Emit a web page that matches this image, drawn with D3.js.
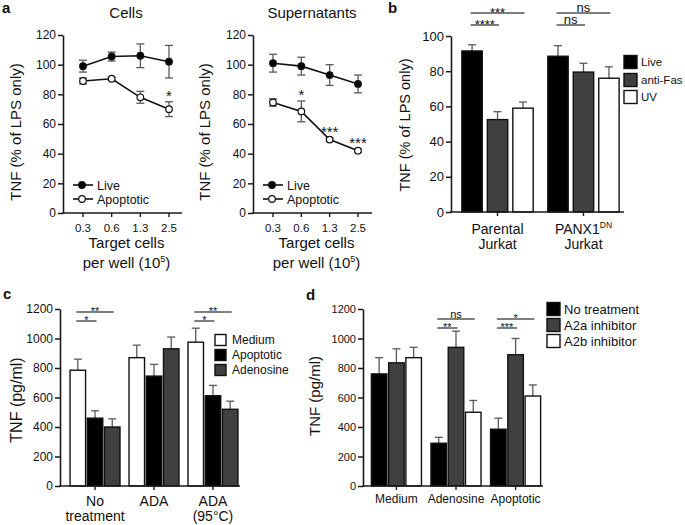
<!DOCTYPE html>
<html><head><meta charset="utf-8">
<script src="https://cdn.jsdelivr.net/npm/d3@7"></script>
<style>body{margin:0;background:#fff}</style>
</head><body><svg id="c" width="685" height="525"></svg>
<script>
// ---------- DATA ----------
const doseLabels = ["0.3", "0.6", "1.3", "2.5"];
const cellsLive = [99, 105.5, 106, 102];
const cellsLiveErr = [4, 3, 8, 11];
const cellsApop = [89, 90.5, 78, 70];
const cellsApopErr = [2, 1, 4, 5];
const cellsStars = ["", "", "", "*"];
const supLive = [101, 99, 93, 87];
const supLiveErr = [6, 6, 7, 6];
const supApop = [74.5, 68.5, 49.5, 42];
const supApopErr = [2.5, 7, 1, 1];
const supStars = ["", "*", "***", "***"];
const pctTicks = [0, 20, 40, 60, 80, 100, 120];

const bGroups = ["Parental", "PANX1"];
const bSeries = ["Live", "anti-Fas", "UV"];
const bParental = [91.5, 52.5, 59];
const bParentalErr = [3.5, 4.5, 3.5];
const bPanx = [88.5, 79.5, 76];
const bPanxErr = [6, 5, 6.5];
const bTicks = [0, 20, 40, 60, 80, 100];
const bSig = [["Parental", "Live", "UV", "***", 0], ["Parental", "Live", "anti-Fas", "****", 1],
              ["PANX1", "Live", "UV", "ns", 0], ["PANX1", "Live", "anti-Fas", "ns", 1]];

const cGroups = ["No treatment", "ADA", "ADA (95°C)"];
const cSeries = ["Medium", "Apoptotic", "Adenosine"];
const cNoTx = [785, 460, 400];
const cNoTxErr = [75, 50, 55];
const cADA = [870, 745, 930];
const cADAErr = [85, 80, 80];
const cADA95 = [975, 612, 520];
const cADA95Err = [95, 70, 55];
const pgTicks = [0, 200, 400, 600, 800, 1000, 1200];
const cSig = [["No treatment", "Medium", "Adenosine", "**", 0], ["No treatment", "Medium", "Apoptotic", "*", 1],
              ["ADA (95°C)", "Medium", "Adenosine", "**", 0], ["ADA (95°C)", "Medium", "Apoptotic", "*", 1]];

const dGroups = ["Medium", "Adenosine", "Apoptotic"];
const dSeries = ["No treatment", "A2a inhibitor", "A2b inhibitor"];
const dMedium = [760, 835, 870];
const dMediumErr = [110, 95, 70];
const dAdenosine = [290, 940, 500];
const dAdenosineErr = [40, 110, 80];
const dApoptotic = [385, 890, 610];
const dApoptoticErr = [75, 110, 75];
const dSig = [["Adenosine", "No treatment", "A2b inhibitor", "ns", 0], ["Adenosine", "No treatment", "A2a inhibitor", "**", 1],
              ["Apoptotic", "No treatment", "A2b inhibitor", "*", 0], ["Apoptotic", "No treatment", "A2a inhibitor", "***", 1]];

// ---------- STYLE ----------
const FONT = '"Liberation Sans", Arial, Helvetica, sans-serif';
const AX = "#1a1a1a", ERR = "#5a5a5a", DARK = "#404040", TXT = "#111";
const svg = d3.select("#c");

function text(x, y, s, fs, opts = {}) {
  const t = svg.append("text").attr("x", x).attr("y", y).text(s)
    .attr("font-family", FONT).attr("font-size", fs).attr("fill", TXT)
    .attr("text-anchor", opts.anchor || "start");
  if (opts.bold) t.attr("font-weight", "bold");
  if (opts.rotate) t.attr("transform", `rotate(-90,${x},${y})`).attr("dominant-baseline", "central");
  return t;
}

function yAxis(x, y, ticks, fs) {
  const g = svg.append("g").attr("transform", `translate(${x},0)`)
    .call(d3.axisLeft(y).tickValues(ticks).tickSize(5).tickSizeOuter(0).tickPadding(2).tickFormat(d3.format("d")));
  g.select(".domain").attr("stroke", AX).attr("stroke-width", 1.6);
  g.selectAll(".tick line").attr("stroke", AX).attr("stroke-width", 1.5);
  g.selectAll(".tick text").attr("font-size", fs).attr("font-family", FONT).attr("fill", TXT);
}

function xAxisLine(x0, x1, yPix, positions) {
  svg.append("line").attr("x1", x0 - 0.8).attr("x2", x1).attr("y1", yPix).attr("y2", yPix)
    .attr("stroke", AX).attr("stroke-width", 1.6);
  svg.selectAll(null).data(positions).enter().append("line")
    .attr("x1", d => d).attr("x2", d => d).attr("y1", yPix).attr("y2", yPix + 4)
    .attr("stroke", AX).attr("stroke-width", 1.4);
}

function errBar(x, yTop, yBot, cap) {
  svg.append("line").attr("x1", x).attr("x2", x).attr("y1", yTop).attr("y2", yBot)
    .attr("stroke", ERR).attr("stroke-width", 1.3);
  svg.append("line").attr("x1", x - cap).attr("x2", x + cap).attr("y1", yTop).attr("y2", yTop)
    .attr("stroke", ERR).attr("stroke-width", 1.3);
}

// ---------- PANEL a ----------
function linePanel(o) {
  const y = d3.scaleLinear().domain([0, 120]).range([213, 35]);
  const x = d3.scalePoint().domain(doseLabels).range(o.xr);
  yAxis(o.ax, y, pctTicks, 12);
  xAxisLine(o.ax, o.axEnd, y(0), doseLabels.map(d => x(d)));
  doseLabels.forEach(d => text(x(d), 232, d, 11.5, { anchor: "middle" }));
  const series = [
    { v: o.live, e: o.liveErr, fill: "#000" },
    { v: o.apop, e: o.apopErr, fill: "#fff" }
  ];
  series.forEach(s => {
    s.v.forEach((v, i) => {
      const cx = x(doseLabels[i]);
      errBar(cx, y(v + s.e[i]), y(v), 4);
      svg.append("line").attr("x1", cx).attr("x2", cx).attr("y1", y(v)).attr("y2", y(v - s.e[i]))
        .attr("stroke", ERR).attr("stroke-width", 1.3);
      svg.append("line").attr("x1", cx - 4).attr("x2", cx + 4).attr("y1", y(v - s.e[i])).attr("y2", y(v - s.e[i]))
        .attr("stroke", ERR).attr("stroke-width", 1.3);
    });
  });
  const line = d3.line().x((d, i) => x(doseLabels[i])).y(d => y(d));
  series.forEach(s => {
    svg.append("path").attr("d", line(s.v)).attr("fill", "none").attr("stroke", "#111").attr("stroke-width", 1.6);
    svg.selectAll(null).data(s.v).enter().append("circle")
      .attr("cx", (d, i) => x(doseLabels[i])).attr("cy", d => y(d)).attr("r", 3.3)
      .attr("fill", s.fill).attr("stroke", "#111").attr("stroke-width", 1.2);
  });
  o.stars.forEach((s, i) => {
    if (!s) return;
    text(x(doseLabels[i]), y(o.apop[i] + o.apopErr[i]) - 1, s, 15, { anchor: "middle" });
  });
  // legend
  const lg = [["Live", "#000", 185], ["Apoptotic", "#fff", 199]];
  lg.forEach(([name, fill, ly]) => {
    svg.append("line").attr("x1", o.ax + 10).attr("x2", o.ax + 30).attr("y1", ly).attr("y2", ly)
      .attr("stroke", "#111").attr("stroke-width", 1.6);
    svg.append("circle").attr("cx", o.ax + 19).attr("cy", ly).attr("r", 3.3)
      .attr("fill", fill).attr("stroke", "#111").attr("stroke-width", 1.2);
    text(o.ax + 34, ly + 4.5, name, 12.5);
  });
  text(o.titleX, 18, o.title, 15, { anchor: "middle" });
  text(o.ylabX, 132, "TNF (% of LPS only)", 15, { anchor: "middle", rotate: true });
  const cx = (o.ax + o.axEnd) / 2 + 4;
  text(cx, 248, "Target cells", 15, { anchor: "middle" });
  const t = text(cx, 268, "per well (10", 15, { anchor: "middle" });
  t.append("tspan").attr("font-size", 9).attr("dy", -6).text("5");
  t.append("tspan").attr("dy", 6).text(")");
}

linePanel({ ax: 63, axEnd: 182, xr: [83, 169], live: cellsLive, liveErr: cellsLiveErr,
  apop: cellsApop, apopErr: cellsApopErr, stars: cellsStars, title: "Cells", titleX: 126, ylabX: 15 });
linePanel({ ax: 253, axEnd: 372, xr: [273, 358], live: supLive, liveErr: supLiveErr,
  apop: supApop, apopErr: supApopErr, stars: supStars, title: "Supernatants", titleX: 312, ylabX: 204 });

// ---------- BAR PANELS ----------
function barPanel(o) {
  const y = d3.scaleLinear().domain(o.domain).range(o.yr);
  const gx = d3.scaleBand().domain(o.groups).range(o.gr).paddingInner(o.pi).paddingOuter(o.po);
  const sx = d3.scaleBand().domain(o.series).range([0, gx.bandwidth()]).paddingInner(o.si);
  yAxis(o.ax, y, o.ticks, o.tickFs);
  o.groups.forEach((g, gi) => {
    o.values[gi].forEach((v, si) => {
      const bx = gx(g) + sx(o.series[si]);
      const cx = bx + sx.bandwidth() / 2;
      errBar(cx, y(v + o.errs[gi][si]), y(v), 4);
      svg.append("rect").attr("x", bx).attr("y", y(v)).attr("width", sx.bandwidth()).attr("height", y(0) - y(v))
        .attr("fill", o.colors[si]).attr("stroke", "#111").attr("stroke-width", 1.4);
    });
  });
  xAxisLine(o.ax, o.axEnd, y(0), o.groups.map(g => gx(g) + gx.bandwidth() / 2));
  // significance
  o.sig.forEach(([g, a, b, lab, lev]) => {
    const x1 = gx(g) + sx(a) + sx.bandwidth() / 2 - 1.5;
    const x2 = gx(g) + sx(b) + sx.bandwidth() / 2 + 1.5;
    const ly = o.sigY[lev];
    svg.append("line").attr("x1", x1).attr("x2", x2).attr("y1", ly).attr("y2", ly)
      .attr("stroke", "#555").attr("stroke-width", 1.5);
    const isNs = lab === "ns";
    text((x1 + x2) / 2, isNs ? ly - 1.5 : ly + o.starDy, lab, isNs ? o.nsFs : o.starFs, { anchor: "middle" });
  });
  // legend
  o.series.forEach((s, i) => {
    const cy = o.leg.y[i];
    svg.append("rect").attr("x", o.leg.x).attr("y", cy - o.leg.size / 2).attr("width", o.leg.size).attr("height", o.leg.size)
      .attr("fill", o.colors[i]).attr("stroke", "#111").attr("stroke-width", 1.4);
    text(o.leg.x + o.leg.size + o.leg.gap, cy + o.leg.fs * 0.36, s, o.leg.fs);
  });
  // category labels
  o.groups.forEach((g, gi) => {
    const cx = gx(g) + gx.bandwidth() / 2;
    o.catLabels[gi].forEach((line, li) => {
      const t = text(cx, o.catY[li], line[0], o.catFs, { anchor: "middle" });
      if (line[1]) t.append("tspan").attr("font-size", 8.5).attr("dy", -6).text(line[1]);
    });
  });
  text(o.ylab.x, o.ylab.y, o.ylab.s, o.ylab.fs, { anchor: "middle", rotate: true });
}

barPanel({ domain: [0, 100], yr: [212, 36], ax: 451, axEnd: 624, groups: bGroups, series: bSeries,
  gr: [455, 626], pi: 0.17, po: 0.08, si: 0.2, ticks: bTicks, tickFs: 13,
  values: [bParental, bPanx], errs: [bParentalErr, bPanxErr], colors: ["#000", DARK, "#fff"],
  sig: bSig, sigY: [13, 25], starDy: 4, starFs: 13, nsFs: 13,
  leg: { x: 624, y: [62, 80, 97], size: 13, gap: 4, fs: 11.5 },
  catLabels: [[["Parental"], ["Jurkat"]], [["PANX1", "DN"], ["Jurkat"]]], catY: [234, 249], catFs: 14,
  ylab: { x: 405, y: 125, s: "TNF (% of LPS only)", fs: 14.5 } });

barPanel({ domain: [0, 1200], yr: [486, 309], ax: 60, axEnd: 240, groups: cGroups, series: cSeries,
  gr: [68, 240], pi: 0.153, po: 0.035, si: 0.1, ticks: pgTicks, tickFs: 12,
  values: [cNoTx, cADA, cADA95], errs: [cNoTxErr, cADAErr, cADA95Err], colors: ["#fff", "#000", DARK],
  sig: cSig, sigY: [312, 321], starDy: 3, starFs: 11, nsFs: 12,
  leg: { x: 215, y: [340, 355, 370], size: 11, gap: 6, fs: 12 },
  catLabels: [[["No"], ["treatment"]], [["ADA"]], [["ADA"], ["(95°C)"]]], catY: [506, 521], catFs: 14,
  ylab: { x: 16, y: 400, s: "TNF (pg/ml)", fs: 16 } });

barPanel({ domain: [0, 1200], yr: [486, 309], ax: 363, axEnd: 543, groups: dGroups, series: dSeries,
  gr: [369, 543], pi: 0.16, po: 0.04, si: 0.1, ticks: pgTicks, tickFs: 11,
  values: [dMedium, dAdenosine, dApoptotic], errs: [dMediumErr, dAdenosineErr, dApoptoticErr], colors: ["#000", DARK, "#fff"],
  sig: dSig, sigY: [319, 328], starDy: 3, starFs: 11, nsFs: 11,
  leg: { x: 547, y: [309, 325, 341], size: 13, gap: 4, fs: 13 },
  catLabels: [[["Medium"]], [["Adenosine"]], [["Apoptotic"]]], catY: [503], catFs: 12,
  ylab: { x: 314, y: 396, s: "TNF (pg/ml)", fs: 15 } });

// panel letters
text(2, 13, "a", 15, { bold: true });
text(388, 13, "b", 15, { bold: true });
text(3, 299, "c", 15, { bold: true });
text(306, 300, "d", 15, { bold: true });
</script></body></html>
